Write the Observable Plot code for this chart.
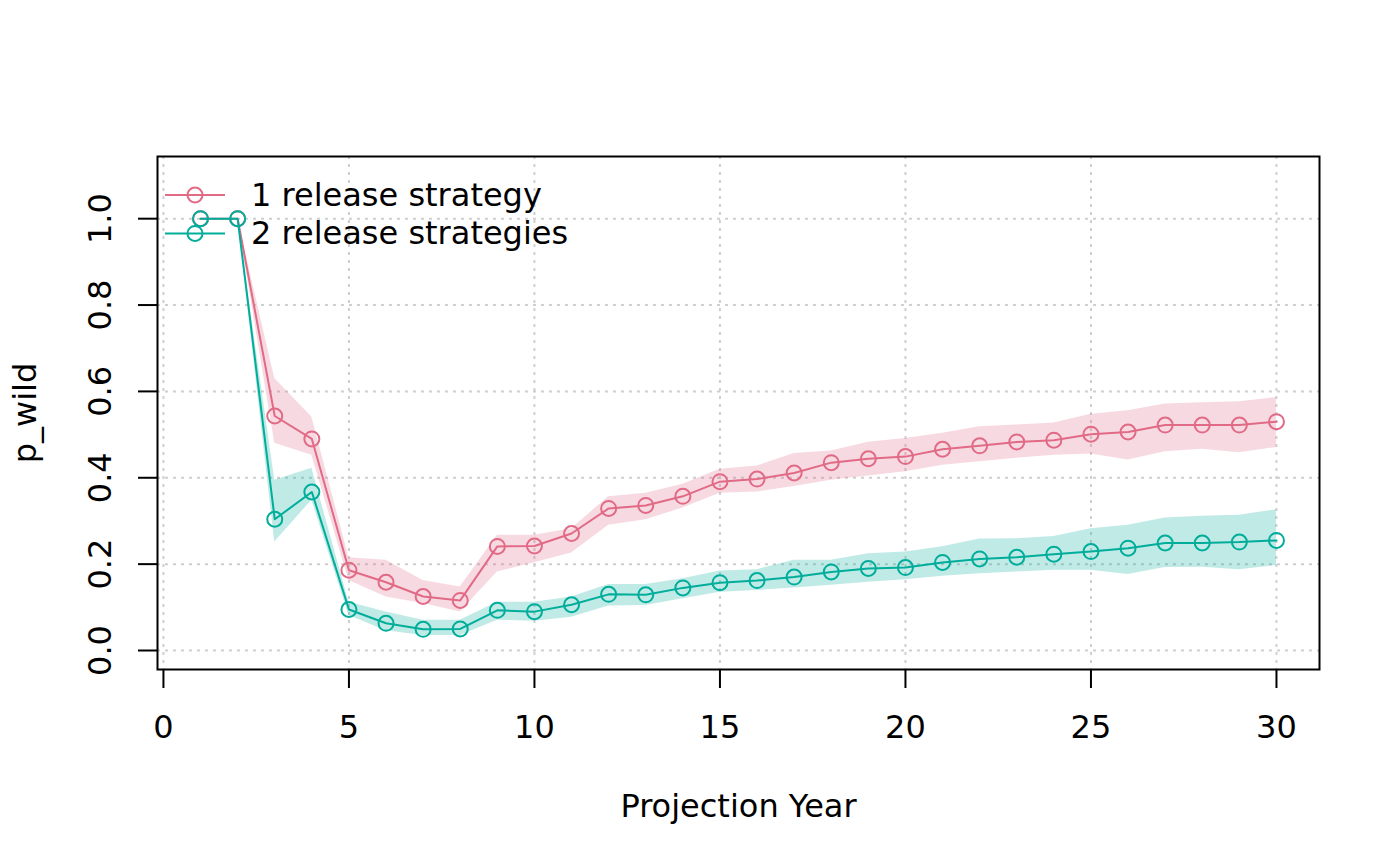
<!DOCTYPE html>
<html>
<head>
<meta charset="utf-8">
<script src="https://cdn.jsdelivr.net/npm/d3@7"></script>
<script src="https://cdn.jsdelivr.net/npm/@observablehq/plot@0.6"></script>
<style>
  html, body { margin: 0; padding: 0; background: #fff; }
  #wrap { position: relative; width: 1400px; height: 865px; font-family: "DejaVu Sans", sans-serif; }
  #legend { position: absolute; left: 157px; top: 156px; }
</style>
</head>
<body>
<div id="wrap"></div>
<script>
const years = [1,2,3,4,5,6,7,8,9,10,11,12,13,14,15,16,17,18,19,20,21,22,23,24,25,26,27,28,29,30];
const p1   = [1,1,0.543,0.490,0.186,0.158,0.125,0.116,0.241,0.242,0.271,0.329,0.336,0.357,0.391,0.397,0.411,0.435,0.444,0.449,0.466,0.474,0.483,0.487,0.501,0.506,0.522,0.522,0.522,0.530];
const p1Lo = [1,1,0.480,0.452,0.162,0.124,0.109,0.089,0.182,0.203,0.226,0.290,0.303,0.330,0.364,0.367,0.380,0.394,0.404,0.414,0.429,0.437,0.445,0.452,0.455,0.441,0.460,0.466,0.458,0.470];
const p1Hi = [1,1,0.630,0.541,0.215,0.209,0.162,0.147,0.267,0.267,0.282,0.356,0.364,0.385,0.420,0.427,0.456,0.462,0.482,0.491,0.503,0.518,0.522,0.527,0.547,0.555,0.571,0.574,0.576,0.586];
const p2   = [1,1,0.304,0.367,0.095,0.063,0.049,0.050,0.093,0.090,0.106,0.130,0.129,0.145,0.157,0.162,0.170,0.182,0.190,0.192,0.204,0.212,0.216,0.223,0.229,0.237,0.249,0.249,0.251,0.255];
const p2Lo = [1,1,0.251,0.348,0.081,0.046,0.035,0.035,0.070,0.068,0.077,0.103,0.104,0.120,0.135,0.139,0.145,0.151,0.158,0.164,0.172,0.178,0.182,0.186,0.186,0.176,0.192,0.193,0.187,0.197];
const p2Hi = [1,1,0.394,0.422,0.112,0.089,0.070,0.070,0.112,0.112,0.124,0.153,0.153,0.166,0.184,0.187,0.209,0.209,0.224,0.228,0.240,0.258,0.259,0.264,0.282,0.290,0.307,0.311,0.313,0.326];
const seriesNames = ["1 release strategy", "2 release strategies"];
const seriesColors = ["#E16A86", "#00AD9A"];
const xTicks = [0,5,10,15,20,25,30];
const yTicks = [0,0.2,0.4,0.6,0.8,1.0];
const xLabel = "Projection Year";
const yLabel = "p_wild";

const s1 = years.map((t,i) => ({t, v: p1[i], lo: p1Lo[i], hi: p1Hi[i]}));
const s2 = years.map((t,i) => ({t, v: p2[i], lo: p2Lo[i], hi: p2Hi[i]}));

const W = 1400, H = 865, ML = 157, MR = 81, MT = 156, MB = 196;
const FS = 32;
const R = 7.5;
const TICK = 19;
const grid = {stroke: "#cfcfcf", strokeOpacity: 1, strokeWidth: 2, strokeDasharray: "3,5"};

function seriesMarks(data, color) {
  return [
    Plot.areaY(data, {x: "t", y1: "lo", y2: "hi", fill: color, fillOpacity: 0.25}),
    Plot.line(data, {x: "t", y: "v", stroke: color, strokeWidth: 2}),
    Plot.dot(data, {x: "t", y: "v", stroke: color, strokeWidth: 2, r: R, fill: "none"})
  ];
}

const chart = Plot.plot({
  width: W, height: H,
  marginLeft: ML, marginRight: MR, marginTop: MT, marginBottom: MB,
  style: {fontFamily: "DejaVu Sans", color: "black", background: "white", overflow: "visible"},
  x: {domain: [-0.16, 31.16]},
  y: {domain: [-0.044, 1.144]},
  marks: [
    Plot.gridX(xTicks, grid),
    Plot.gridY(yTicks, grid),
    ...seriesMarks(s1, seriesColors[0]),
    ...seriesMarks(s2, seriesColors[1]),
    Plot.frame({stroke: "black", strokeWidth: 2}),
    Plot.axisX({ticks: xTicks, tickSize: TICK, tickPadding: 27, fontSize: FS, strokeWidth: 2, tickFormat: d => String(d), label: null}),
    Plot.axisY({ticks: yTicks, tickSize: TICK, stroke: "black", strokeWidth: 2, tickFormat: () => "", label: null}),
    Plot.axisY({ticks: yTicks, tickSize: 0, tickPadding: 47, fontSize: FS, tickFormat: d3.format(".1f"), label: null, rotate: -90, textAnchor: "middle", lineAnchor: "bottom"}),
    Plot.text([xLabel], {frameAnchor: "bottom", dy: 147, lineAnchor: "bottom", fontSize: FS, fill: "black"}),
    Plot.text([yLabel], {frameAnchor: "left", dx: -122, rotate: -90, textAnchor: "middle", lineAnchor: "bottom", fontSize: FS, fill: "black"})
  ]
});

const wrap = document.getElementById("wrap");
wrap.appendChild(chart);

// legend overlay (R-style, no box)
const ns = "http://www.w3.org/2000/svg";
const leg = document.createElementNS(ns, "svg");
leg.setAttribute("id", "legend");
leg.setAttribute("width", 460);
leg.setAttribute("height", 110);
seriesNames.forEach((name, i) => {
  const cy = 39 + i * 38.4;
  const line = document.createElementNS(ns, "line");
  line.setAttribute("x1", 8); line.setAttribute("x2", 68);
  line.setAttribute("y1", cy); line.setAttribute("y2", cy);
  line.setAttribute("stroke", seriesColors[i]); line.setAttribute("stroke-width", 2);
  leg.appendChild(line);
  const c = document.createElementNS(ns, "circle");
  c.setAttribute("cx", 38); c.setAttribute("cy", cy); c.setAttribute("r", R);
  c.setAttribute("fill", "none"); c.setAttribute("stroke", seriesColors[i]); c.setAttribute("stroke-width", 2);
  leg.appendChild(c);
  const tx = document.createElementNS(ns, "text");
  tx.setAttribute("x", 94); tx.setAttribute("y", cy + 11);
  tx.setAttribute("font-size", FS); tx.setAttribute("font-family", "DejaVu Sans");
  tx.setAttribute("fill", "black");
  tx.textContent = name;
  leg.appendChild(tx);
});
wrap.appendChild(leg);
</script>
</body>
</html>
